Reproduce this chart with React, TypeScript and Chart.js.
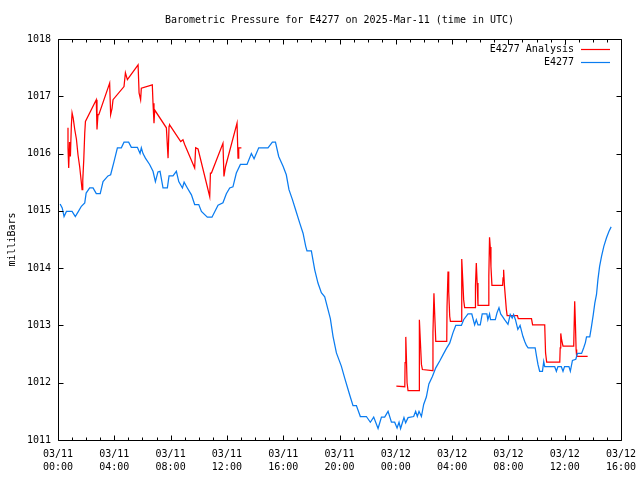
import React, { useEffect, useRef } from 'react';
import { Chart, registerables } from 'chart.js';

Chart.register(...registerables);

const TITLE = 'Barometric Pressure for E4277 on 2025-Mar-11 (time in UTC)';
const Y_LABEL = 'milliBars';
const SERIES_NAMES = ['E4277 Analysis', 'E4277'];
const SERIES_COLORS = ['#ff0000', '#0a7cf0'];

// hours since 03/11 00:00 UTC
const xTickHours = [0, 4, 8, 12, 16, 20, 24, 28, 32, 36, 40];
const xTickLabels = [
  ['03/11', '00:00'], ['03/11', '04:00'], ['03/11', '08:00'], ['03/11', '12:00'],
  ['03/11', '16:00'], ['03/11', '20:00'], ['03/12', '00:00'], ['03/12', '04:00'],
  ['03/12', '08:00'], ['03/12', '12:00'], ['03/12', '16:00'],
];
const yTicks = [1011, 1012, 1013, 1014, 1015, 1016, 1017, 1018];

// E4277 station observations
const stationHours = [
  0.15, 0.3, 0.43, 0.6, 1.0, 1.23, 1.45, 1.66, 1.9, 2.0, 2.25, 2.49, 2.72, 3.0, 3.2, 3.55, 3.74, 3.98,
  4.22, 4.5, 4.69, 5.02, 5.21, 5.64, 5.83, 5.92, 6.04, 6.21, 6.51, 6.75, 6.92, 7.1, 7.25, 7.46, 7.77,
  7.89, 8.17, 8.41, 8.58, 8.84, 8.96, 9.19, 9.48, 9.71, 10.0, 10.19, 10.61, 10.94, 11.37, 11.72, 11.96,
  12.2, 12.43, 12.67, 12.96, 13.43, 13.74, 13.93, 14.26, 14.92, 15.23, 15.45, 15.68, 15.99, 16.22,
  16.41, 16.65, 16.88, 17.17, 17.41, 17.6, 17.69, 18.0, 18.24, 18.47, 18.71, 18.95, 19.18, 19.35,
  19.54, 19.78, 20.13, 20.37, 20.72, 20.96, 21.2, 21.48, 21.91, 22.19, 22.43, 22.74, 22.98, 23.21,
  23.45, 23.69, 23.92, 24.09, 24.23, 24.34, 24.58, 24.7, 24.87, 25.27, 25.41, 25.53, 25.65, 25.82,
  25.98, 26.17, 26.35, 26.6, 26.84, 27.12, 27.36, 27.6, 27.83, 28.06, 28.26, 28.66, 28.82, 29.13,
  29.4, 29.6, 29.72, 29.84, 30.0, 30.14, 30.47, 30.54, 30.66, 30.73, 31.07, 31.19, 31.33, 31.45,
  31.6, 31.73, 31.97, 32.13, 32.27, 32.37, 32.5, 32.67, 32.83, 33.03, 33.16, 33.28, 33.4, 33.9,
  34.0, 34.1, 34.22, 34.42, 34.51, 34.58, 35.29, 35.41, 35.52, 35.76, 35.88, 35.99, 36.3, 36.4,
  36.55, 36.79, 36.9, 37.2, 37.35, 37.47, 37.55, 37.78, 37.89, 38.03, 38.14, 38.26, 38.36, 38.48,
  38.62, 38.78, 38.97, 39.14, 39.3,
];
const stationValues = [
  1015.12, 1015.05, 1014.9, 1014.99, 1014.99, 1014.9, 1014.99, 1015.08, 1015.14, 1015.31, 1015.4,
  1015.4, 1015.3, 1015.3, 1015.51, 1015.61, 1015.63, 1015.86, 1016.1, 1016.1, 1016.2, 1016.2,
  1016.11, 1016.11, 1016.0, 1016.1, 1016.0, 1015.92, 1015.81, 1015.69, 1015.51, 1015.68, 1015.69,
  1015.4, 1015.4, 1015.61, 1015.61, 1015.69, 1015.51, 1015.4, 1015.5, 1015.4, 1015.28, 1015.11,
  1015.11, 1014.99, 1014.89, 1014.89, 1015.1, 1015.14, 1015.3, 1015.4, 1015.42, 1015.66, 1015.81,
  1015.81, 1016.0, 1015.91, 1016.1, 1016.1, 1016.2, 1016.2, 1015.95, 1015.78, 1015.63, 1015.37,
  1015.2, 1015.02, 1014.79, 1014.61, 1014.38, 1014.3, 1014.3, 1013.97, 1013.74, 1013.57, 1013.5,
  1013.28, 1013.12, 1012.81, 1012.52, 1012.29, 1012.08, 1011.79, 1011.6, 1011.6, 1011.41, 1011.41,
  1011.31, 1011.4, 1011.2, 1011.4, 1011.4, 1011.5, 1011.31, 1011.31, 1011.21, 1011.31, 1011.2,
  1011.39, 1011.3, 1011.39, 1011.41, 1011.5, 1011.41, 1011.5, 1011.41, 1011.62, 1011.75, 1011.98,
  1012.11, 1012.26, 1012.38, 1012.49, 1012.6, 1012.69, 1012.87, 1013.0, 1013.0, 1013.1, 1013.2,
  1013.2, 1013.01, 1013.1, 1013.01, 1013.01, 1013.2, 1013.2, 1013.1, 1013.2, 1013.1, 1013.1,
  1013.22, 1013.31, 1013.2, 1013.15, 1013.1, 1013.02, 1013.19, 1013.13, 1013.19, 1013.1, 1012.93,
  1013.0, 1012.81, 1012.72, 1012.65, 1012.61, 1012.61, 1012.46, 1012.32, 1012.2, 1012.2, 1012.37,
  1012.28, 1012.28, 1012.2, 1012.28, 1012.28, 1012.2, 1012.28, 1012.28, 1012.2, 1012.39, 1012.41,
  1012.51, 1012.51, 1012.61, 1012.7, 1012.8, 1012.8, 1012.96, 1013.19, 1013.39, 1013.54, 1013.8,
  1014.03, 1014.21, 1014.38, 1014.53, 1014.64, 1014.72,
];

// E4277 Analysis (null = gap)
const analysisHours = [
  0.71, 0.71, 0.76, 0.82, 0.88, 0.95, 1.0, 1.08, 1.19, 1.31, 1.42, 1.54, 1.66, 1.71, 1.76, 1.83, 1.9,
  1.95, 2.72, 2.77, 2.84, 2.9, 3.67, 3.74, 3.84, 3.91, 4.69, 4.79, 4.93, 5.69, 5.76, 5.87, 5.92, 6.7,
  6.75, 6.82, 6.87, 7.7, 7.82, 7.89, 7.93, 8.72, 8.88, 9.0, 9.71, 9.78, 9.95, 10.78, 10.83, 10.9,
  11.72, 11.79, 11.9, 12.72, 12.79, 12.84, 13.03,
  18.0,
  24.04, 24.64, 24.66, 24.71, 24.75, 24.8, 24.87, 25.65, 25.66, 25.69, 25.74, 25.82, 25.89, 26.6,
  26.64, 26.71, 26.76, 26.84, 27.62, 27.64, 27.71, 27.76, 27.83, 27.88, 28.66, 28.67, 28.7, 28.75,
  28.82, 28.89, 29.65, 29.66, 29.72, 29.78, 29.84, 30.6, 30.61, 30.66, 30.71, 30.76, 30.83, 31.59,
  31.62, 31.66, 31.72, 31.85, 31.91, 32.64, 32.7, 33.64, 33.72, 34.58, 34.64, 34.72, 35.65, 35.68,
  35.72, 35.78, 35.88, 36.64, 36.71, 36.76, 36.81, 36.85, 37.63,
];
const analysisValues = [
  1016.45, 1016.1, 1015.75, 1016.2, 1015.95, 1016.5, 1016.71, 1016.62, 1016.42, 1016.25, 1015.98,
  1015.77, 1015.49, 1015.37, 1015.54, 1015.89, 1016.36, 1016.56, 1016.94, 1016.42, 1016.68, 1016.68,
  1017.23, 1016.68, 1016.79, 1016.94, 1017.17, 1017.41, 1017.29, 1017.55, 1017.06, 1016.94, 1017.14,
  1017.2, 1016.88, 1016.53, 1016.76, 1016.45, 1015.92, 1016.48, 1016.5, 1016.21, 1016.24, 1016.16,
  1015.75, 1016.1, 1016.08, 1015.25, 1015.66, 1015.66, 1016.18, 1015.6, 1015.77, 1016.53, 1015.92,
  1016.1, 1016.1,
  null,
  1011.94, 1011.93, 1012.35, 1012.8, 1012.46, 1012.0, 1011.86, 1011.86, 1012.47, 1013.1, 1012.75,
  1012.32, 1012.23, 1012.21, 1012.88, 1013.56, 1013.22, 1012.72, 1012.72, 1013.33, 1013.94, 1013.59,
  1013.16, 1013.07, 1013.07, 1013.59, 1014.16, 1013.83, 1013.45, 1013.31, 1013.31, 1013.69, 1014.09,
  1013.74, 1013.35, 1013.35, 1013.86, 1014.54, 1014.37, 1014.03, 1013.7, 1013.7, 1013.83, 1013.97,
  1013.69, 1013.29, 1013.17, 1013.17, 1013.12, 1013.12, 1013.01, 1013.01, 1012.52, 1012.36, 1012.36,
  1012.61, 1012.86, 1012.75, 1012.64, 1012.64, 1013.42, 1013.04, 1012.58, 1012.46, 1012.46,
];

const FONT = "'DejaVu Sans Mono', monospace";

const toPoints = (hs: number[], vs: (number | null)[]) => hs.map((h, i) => ({ x: h, y: vs[i] }));

const framePlugin = {
  id: 'gnuframe',
  afterDraw(chart: any) {
    const { ctx, chartArea: a, scales } = chart;
    ctx.save();
    ctx.strokeStyle = '#000';
    ctx.lineWidth = 1;
    const L = Math.round(a.left) + 0.5;
    const R = Math.round(a.right) + 0.5;
    const T = Math.round(a.top) + 0.5;
    const B = Math.round(a.bottom) + 0.5;
    ctx.beginPath();
    ctx.rect(L, T, R - L, B - T);
    const xs = scales.x;
    for (let h = xs.min; h <= xs.max; h += 1) {
      const px = Math.round(xs.getPixelForValue(h)) + 0.5;
      const len = h % 4 === 0 ? 5 : 3;
      ctx.moveTo(px, B); ctx.lineTo(px, B - len);
      ctx.moveTo(px, T); ctx.lineTo(px, T + len);
    }
    for (const v of yTicks) {
      const py = Math.round(scales.y.getPixelForValue(v)) + 0.5;
      ctx.moveTo(L, py); ctx.lineTo(L + 5, py);
      ctx.moveTo(R, py); ctx.lineTo(R - 5, py);
    }
    ctx.stroke();

    ctx.fillStyle = '#000';
    ctx.font = `10px ${FONT}`;
    ctx.textBaseline = 'middle';
    ctx.textAlign = 'center';
    ctx.fillText(TITLE, (a.left + a.right) / 2, 20);

    // legend (top right, inside)
    ctx.textAlign = 'right';
    const rows = [0, 1];
    rows.forEach((i) => {
      const y = 49 + i * 13;
      ctx.fillStyle = '#000';
      ctx.fillText(SERIES_NAMES[i], a.right - 47, y);
      ctx.strokeStyle = SERIES_COLORS[i];
      ctx.lineWidth = 1.2;
      ctx.beginPath();
      ctx.moveTo(a.right - 40, y + 0.5);
      ctx.lineTo(a.right - 11, y + 0.5);
      ctx.stroke();
    });
    ctx.restore();
  },
};

export default function App() {
  const ref = useRef<HTMLCanvasElement>(null);
  useEffect(() => {
    if (!ref.current) return;
    Chart.defaults.font.family = FONT;
    Chart.defaults.font.size = 10;
    Chart.defaults.color = '#000';
    const chart = new Chart(ref.current, {
      type: 'line',
      data: {
        datasets: [
          {
            label: SERIES_NAMES[1],
            data: toPoints(stationHours, stationValues),
            borderColor: SERIES_COLORS[1],
            borderWidth: 1.25,
            pointRadius: 0,
            tension: 0,
            fill: false,
          },
          {
            label: SERIES_NAMES[0],
            data: toPoints(analysisHours, analysisValues),
            borderColor: SERIES_COLORS[0],
            borderWidth: 1.25,
            pointRadius: 0,
            tension: 0,
            fill: false,
            spanGaps: false,
          },
        ],
      },
      options: {
        animation: false,
        responsive: false,
        layout: { padding: { top: 39, right: 19, left: 0, bottom: 0 } },
        plugins: { legend: { display: false }, title: { display: false }, tooltip: { enabled: false } },
        scales: {
          x: {
            type: 'linear',
            min: 0,
            max: 40,
            grid: { display: false, drawTicks: false },
            border: { display: false },
            afterBuildTicks: (s: any) => { s.ticks = xTickHours.map((v) => ({ value: v })); },
            ticks: {
              autoSkip: false,
              maxRotation: 0,
              padding: 8,
              font: { size: 10, lineHeight: 1.3 },
              callback: (_v: any, i: number) => xTickLabels[i],
            },
            afterFit: (s: any) => { s.height = 40; s.paddingLeft = 0; s.paddingRight = 0; },
          },
          y: {
            type: 'linear',
            min: 1011,
            max: 1018,
            grid: { display: false, drawTicks: false },
            border: { display: false },
            afterBuildTicks: (s: any) => { s.ticks = yTicks.map((v) => ({ value: v })); },
            ticks: { padding: 7, font: { size: 10 }, callback: (v: any) => String(v) },
            title: { display: true, text: Y_LABEL, font: { size: 10, lineHeight: 1.2 }, padding: { top: 6, bottom: 0 } },
            afterFit: (s: any) => { s.width = 58; s.paddingTop = 0; s.paddingBottom = 0; },
          },
        },
      },
      plugins: [framePlugin],
    });
    return () => chart.destroy();
  }, []);
  return (
    <div style={{ position: 'absolute', left: 0, top: 0, width: 640, height: 480, background: '#fff' }}>
      <canvas ref={ref} width={640} height={480} />
    </div>
  );
}
